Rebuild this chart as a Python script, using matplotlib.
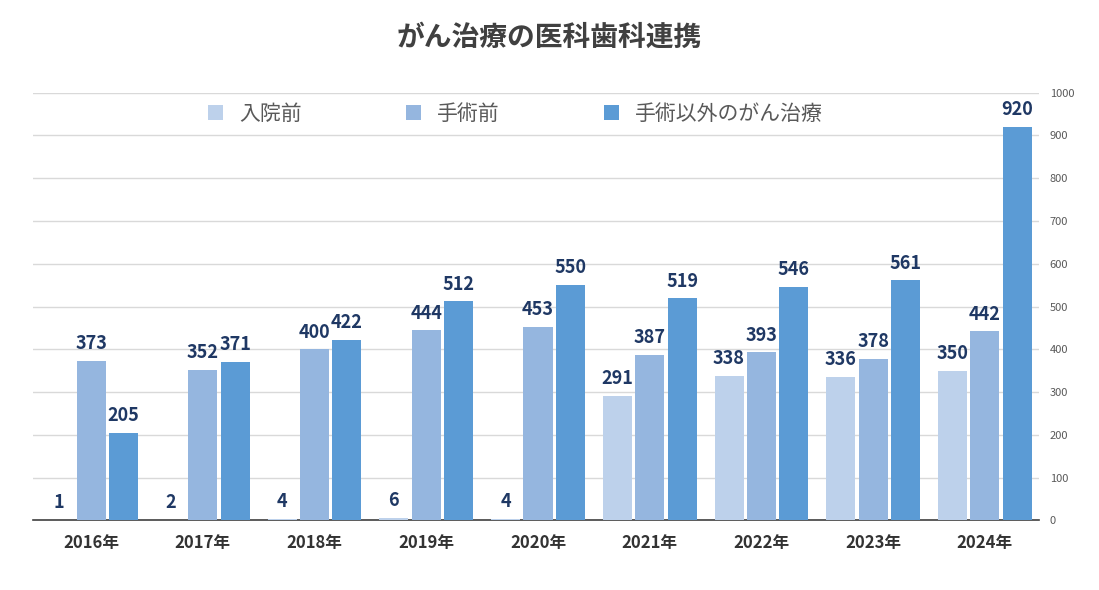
import matplotlib
matplotlib.use("Agg")
import matplotlib.pyplot as plt
import numpy as np

plt.rcParams["font.family"] = ["Noto Sans CJK JP", "DejaVu Sans"]

years = ["2016年", "2017年", "2018年", "2019年", "2020年", "2021年", "2022年", "2023年", "2024年"]
series_names = ["入院前", "手術前", "手術以外のがん治療"]
pre_admission = [1, 2, 4, 6, 4, 291, 338, 336, 350]
pre_surgery = [373, 352, 400, 444, 453, 387, 393, 378, 442]
other_treatment = [205, 371, 422, 512, 550, 519, 546, 561, 920]
colors = ["#BDD1EB", "#95B6DF", "#5B9BD5"]

fig = plt.figure(figsize=(10.99, 5.9), dpi=100)
ax = fig.add_axes([0.03, 0.118, 0.915, 0.725])
x = np.arange(len(years))
w = 0.26
off = 0.29
for i, (vals, c) in enumerate(zip([pre_admission, pre_surgery, other_treatment], colors)):
    pos = x + (i - 1) * off
    bars = ax.bar(pos, vals, w, color=c, label=series_names[i], zorder=3)
    for p, v in zip(pos, vals):
        ax.text(p, v + 18, str(v), ha="center", va="bottom", fontsize=13,
                fontweight="bold", color="#1F3864", zorder=4)

ax.set_ylim(0, 1000)
ax.set_xlim(-0.52, len(years) - 0.52)
ax.yaxis.tick_right()
ax.set_yticks(range(0, 1001, 100))
ax.tick_params(axis="y", labelsize=8, colors="#595959", length=0, pad=8)
ax.set_xticks(x)
ax.set_xticklabels(years, fontsize=12, fontweight="bold", color="#333333")
ax.tick_params(axis="x", length=0, pad=10)
ax.grid(axis="y", color="#D9D9D9", linewidth=1, zorder=0)
for s in ["top", "right", "left"]:
    ax.spines[s].set_visible(False)
ax.spines["bottom"].set_color("#404040")
ax.spines["bottom"].set_linewidth(1.2)

leg = ax.legend(loc="upper center", bbox_to_anchor=(0.48, 1.02), ncol=3, frameon=False,
                fontsize=15, handlelength=0.7, handleheight=0.7, columnspacing=5,
                labelcolor="#595959")
fig.suptitle("がん治療の医科歯科連携", fontsize=20, fontweight="bold", color="#404040", y=0.96)
fig.savefig("out.png", dpi=100)
